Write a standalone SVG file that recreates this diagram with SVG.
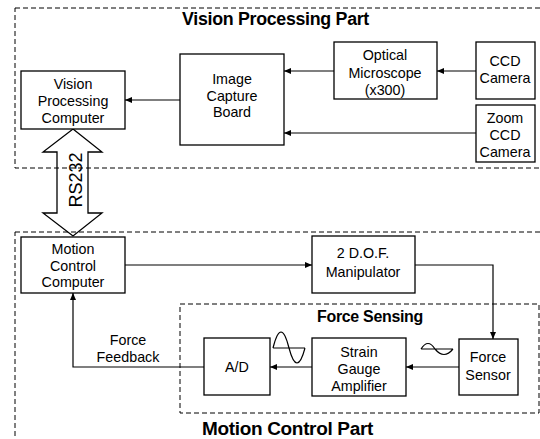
<svg xmlns="http://www.w3.org/2000/svg" width="540" height="439" viewBox="0 0 540 439">
<style>
text{font-family:"Liberation Sans",Arial,sans-serif;fill:#000}
.t{font-size:14.3px;text-anchor:middle}
.h{font-size:17.5px;font-weight:bold;letter-spacing:-0.3px}
.box{fill:#fff;stroke:#000;stroke-width:1.3}
.dash{fill:none;stroke:#000;stroke-width:1;stroke-dasharray:5,3}
.c{fill:none;stroke:#000;stroke-width:1.2}
</style>
<defs>
<marker id="ah" markerUnits="userSpaceOnUse" markerWidth="8" markerHeight="8" refX="7" refY="4" orient="auto">
<path d="M0,1 L7,4 L0,7 Z" fill="#000"/>
</marker>
</defs>
<rect width="540" height="439" fill="#fff"/>
<g id="regions">
<rect class="dash" x="15" y="8" width="530" height="160"/>
<rect class="dash" x="15" y="232" width="530" height="220"/>
<rect class="dash" x="180" y="304" width="359" height="109"/>
<text class="h" x="182" y="25" textLength="187" lengthAdjust="spacingAndGlyphs">Vision Processing Part</text>
<text class="h" x="202" y="435" textLength="171" lengthAdjust="spacingAndGlyphs">Motion Control Part</text>
<text class="h" x="317" y="322" style="font-size:16px" textLength="106" lengthAdjust="spacingAndGlyphs">Force Sensing</text>
</g>
<g id="connectors">
<path class="c" d="M180,100 L125,100" marker-end="url(#ah)"/>
<path class="c" d="M334,71 L284,71" marker-end="url(#ah)"/>
<path class="c" d="M476,71 L437,71" marker-end="url(#ah)"/>
<path class="c" d="M476,133 L284,133" marker-end="url(#ah)"/>
<path class="c" d="M125,265 L312,265" marker-end="url(#ah)"/>
<path class="c" d="M415,265 L493,265 L493,339" marker-end="url(#ah)"/>
<path class="c" d="M459,367 L406,367" marker-end="url(#ah)"/>
<path class="c" d="M312,367 L270,367" marker-end="url(#ah)"/>
<path class="c" d="M204,367 L73,367 L73,293" marker-end="url(#ah)"/>
<polygon fill="none" stroke="#000" stroke-width="1.3" points="73,129 102,152 88,152 88,213 102,213 73,236 43,213 57,213 57,152 43,152"/>
<text x="82" y="180" transform="rotate(-90 82 180)" style="font-size:18px;text-anchor:middle">RS232</text>
<text class="t" x="128" y="345">Force</text>
<text class="t" x="128" y="362">Feedback</text>
<path class="c" d="M273,348 H305 M273,348 Q281,316 289,348 Q297,378 305,348"/>
<path class="c" d="M421,349 H453 M421,349 Q428,338 435,349 Q444,360 453,349"/>
</g>
<g id="vpc"><rect class="box" x="21" y="71" width="104" height="58"/>
<text class="t" x="73" y="89">Vision</text><text class="t" x="73" y="106">Processing</text><text class="t" x="73" y="123">Computer</text></g>
<g id="icb"><rect class="box" x="180" y="54" width="104" height="91"/>
<text class="t" x="232" y="84">Image</text><text class="t" x="232" y="101">Capture</text><text class="t" x="232" y="117">Board</text></g>
<g id="om"><rect class="box" x="334" y="42" width="103" height="57"/>
<text class="t" x="385" y="60">Optical</text><text class="t" x="385" y="78">Microscope</text><text class="t" x="385" y="95">(x300)</text></g>
<g id="ccd"><rect class="box" x="476" y="42" width="59" height="57"/>
<text class="t" x="505" y="66">CCD</text><text class="t" x="505" y="83">Camera</text></g>
<g id="zccd"><rect class="box" x="476" y="105" width="59" height="57"/>
<text class="t" x="505" y="123">Zoom</text><text class="t" x="505" y="140">CCD</text><text class="t" x="505" y="157">Camera</text></g>
<g id="mcc"><rect class="box" x="21" y="237" width="104" height="56"/>
<text class="t" x="73" y="254">Motion</text><text class="t" x="73" y="271">Control</text><text class="t" x="73" y="287">Computer</text></g>
<g id="dof"><rect class="box" x="312" y="236" width="103" height="57"/>
<text class="t" x="363" y="258">2 D.O.F.</text><text class="t" x="363" y="277">Manipulator</text></g>
<g id="fs"><rect class="box" x="459" y="339" width="59" height="56"/>
<text class="t" x="488" y="362">Force</text><text class="t" x="488" y="380">Sensor</text></g>
<g id="sga"><rect class="box" x="312" y="338" width="94" height="58"/>
<text class="t" x="359" y="357">Strain</text><text class="t" x="359" y="374">Gauge</text><text class="t" x="359" y="391">Amplifier</text></g>
<g id="ad"><rect class="box" x="204" y="338" width="66" height="57"/>
<text class="t" x="237" y="372">A/D</text></g>
</svg>
